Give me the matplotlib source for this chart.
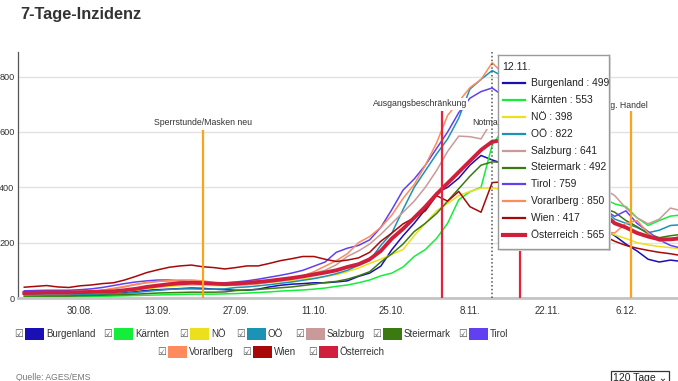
import matplotlib
matplotlib.use('Agg')
import matplotlib.pyplot as plt
import matplotlib.dates as mdates
import numpy as np
from matplotlib.patches import Rectangle
from matplotlib.ticker import FuncFormatter

plt.rcParams['font.family'] = ['Liberation Sans', 'DejaVu Sans']

# every second day, 20.08.2020 - 16.12.2020
dates = np.arange(np.datetime64('2020-08-20'), np.datetime64('2020-12-17'), np.timedelta64(2, 'D'))

burgenland = [12, 12, 11, 10, 10, 10, 12, 14, 16, 20,
              24, 28, 30, 32, 34, 36, 35, 32, 30, 28,
              28, 32, 40, 46, 50, 52, 55, 55, 58, 62,
              78, 90, 115, 175, 225, 270, 320, 380, 400, 433,
              480, 515, 499, 485, 465, 440, 415, 390, 365, 340,
              310, 280, 250, 225, 195, 170, 140, 130, 137, 132]
kaernten = [4, 4, 4, 4, 4, 4, 5, 6, 7, 8,
            9, 10, 11, 12, 13, 14, 14, 14, 15, 16,
            18, 20, 22, 25, 27, 29, 32, 36, 42, 47,
            55, 65, 80, 90, 112, 150, 175, 215, 270, 355,
            384, 400, 553, 610, 620, 600, 570, 530, 495, 455,
            420, 390, 360, 340, 330, 290, 262, 280, 296, 300]
noe = [10, 10, 11, 11, 12, 13, 15, 17, 20, 24,
       28, 33, 38, 42, 45, 46, 46, 45, 45, 46,
       48, 52, 56, 60, 64, 68, 72, 78, 84, 95,
       108, 125, 140, 158, 175, 225, 270, 315, 342, 370,
       385, 397, 398, 390, 380, 365, 350, 335, 315, 300,
       285, 265, 245, 228, 215, 200, 192, 186, 182, 178]
ooe = [14, 13, 12, 12, 12, 12, 13, 14, 15, 17,
       20, 24, 28, 31, 33, 33, 32, 32, 33, 38,
       40, 44, 48, 53, 58, 64, 70, 78, 88, 100,
       118, 135, 190, 235, 320, 400, 460, 520, 575, 650,
       755, 790, 822, 800, 770, 730, 680, 620, 560, 500,
       440, 380, 320, 285, 270, 255, 236, 245, 262, 265]
salzburg = [22, 22, 21, 20, 20, 22, 25, 28, 33, 40,
            48, 55, 60, 62, 62, 60, 57, 52, 50, 50,
            50, 52, 58, 65, 72, 80, 90, 100, 120, 150,
            170, 195, 230, 270, 310, 350, 400, 460, 530, 585,
            583, 575, 641, 645, 630, 605, 575, 545, 510, 480,
            450, 420, 395, 370, 325, 290, 268, 285, 325, 315]
steiermark = [7, 7, 7, 7, 7, 8, 9, 10, 11, 12,
              14, 16, 18, 19, 20, 21, 21, 21, 22, 27,
              29, 31, 34, 37, 40, 45, 50, 56, 60, 68,
              80, 95, 130, 160, 195, 240, 270, 305, 350, 395,
              440, 480, 492, 490, 480, 465, 450, 430, 410, 390,
              365, 345, 325, 310, 280, 258, 232, 218, 225, 230]
tirol = [26, 27, 28, 28, 28, 30, 33, 38, 45, 52,
         58, 62, 65, 65, 62, 58, 55, 55, 55, 58,
         62, 68, 75, 82, 90, 100, 115, 130, 165, 180,
         190, 210, 255, 320, 390, 430, 480, 540, 600, 670,
         722, 746, 759, 730, 690, 640, 590, 540, 490, 440,
         400, 360, 320, 295, 315, 270, 240, 210, 190, 180]
vorarlberg = [18, 17, 16, 16, 16, 18, 22, 28, 35, 42,
              50, 56, 60, 63, 65, 65, 62, 56, 50, 47,
              48, 52, 57, 62, 68, 80, 95, 115, 135, 160,
              200, 222, 255, 300, 360, 410, 480, 560, 660, 710,
              760, 790, 850, 810, 750, 680, 610, 540, 470, 400,
              340, 285, 240, 235, 270, 280, 235, 205, 210, 225]
wien = [39, 42, 45, 40, 38, 44, 47, 52, 55, 65,
        78, 92, 102, 111, 116, 119, 113, 110, 105, 110,
        116, 116, 125, 135, 142, 150, 150, 140, 132, 137,
        145, 165, 205, 235, 268, 290, 315, 370, 350, 385,
        330, 310, 417, 420, 405, 385, 360, 340, 315, 290,
        265, 245, 225, 205, 190, 180, 172, 165, 160, 153]
oesterreich = [18, 19, 20, 20, 20, 21, 22, 23, 24, 28,
               33, 40, 45, 50, 53, 55, 54, 52, 50, 52,
               55, 58, 62, 67, 72, 78, 85, 92, 100, 112,
               122, 140, 170, 215, 250, 290, 330, 375, 415, 455,
               495, 535, 565, 570, 555, 530, 500, 470, 440, 410,
               380, 345, 305, 270, 255, 235, 222, 212, 212, 216]

names = ['Burgenland', 'Kärnten', 'NÖ', 'OÖ', 'Salzburg', 'Steiermark',
         'Tirol', 'Vorarlberg', 'Wien', 'Österreich']
series = [burgenland, kaernten, noe, ooe, salzburg, steiermark,
          tirol, vorarlberg, wien, oesterreich]
colors = ['#1a0fb4', '#14ee3a', '#ece01c', '#1a93b4', '#c99a99', '#3a7a10',
          '#6040f0', '#ff8a5c', '#a80808', '#d01f3c']

event_dates = [np.datetime64('2020-09-21'), np.datetime64('2020-11-03'),
               np.datetime64('2020-11-17'), np.datetime64('2020-12-07')]
event_labels = ['Sperrstunde/Masken neu', 'Ausgangsbeschränkung',
                'Notmaßnahmen', 'Öffnung. Handel']
event_colors = ['#ffa21a', '#e8213c', '#e8213c', '#ffa21a']

tick_dates = [np.datetime64(d) for d in ['2020-08-30', '2020-09-13', '2020-09-27', '2020-10-11',
                                          '2020-10-25', '2020-11-08', '2020-11-22', '2020-12-06']]
hover_date = np.datetime64('2020-11-12')
hover_values = [499, 553, 398, 822, 641, 492, 759, 850, 417, 565]

W, H = 678, 381
fig = plt.figure(figsize=(W / 100, H / 100), dpi=100)


def fx(x):
    return x / W


def fy(y):
    return 1 - y / H


ax = fig.add_axes([fx(18), fy(298), 660 / W, 246 / H])
base = mdates.date2num(np.datetime64('2020-08-30'))
ax.set_xlim(base - 11.13, base + 107.36)
ax.set_ylim(0, 889)

for name, vals, c in zip(names, series, colors):
    lw = 2.8 if name == 'Österreich' else 1.1
    ax.plot(dates, vals, color=c, lw=lw, zorder=3 if name == 'Österreich' else 2,
            solid_joinstyle='round')

# events
ev_text_dx = [0, -4, -8.6, 2.9]
ev_text_y = [633, 702, 633, 698]
ev_top = [608, 677, 608, 677]
ev_ha = ['center', 'center', 'left', 'right']
for i, d in enumerate(event_dates):
    dn = mdates.date2num(d)
    ax.vlines(dn, 0, ev_top[i], color=event_colors[i], lw=1.6, zorder=4)
    ax.text(dn + ev_text_dx[i], ev_text_y[i], event_labels[i], ha=ev_ha[i], va='center',
            fontsize=6.3, color='#333333', zorder=5,
            bbox=dict(facecolor='white', edgecolor='none', pad=1.0))

ax.axvline(mdates.date2num(hover_date), color='#555555', lw=1.1, ls=(0, (1, 1.5)), zorder=6)

ax.set_yticks([0, 200, 400, 600, 800])
ax.set_xticks([mdates.date2num(d) for d in tick_dates])
ax.xaxis.set_major_formatter(FuncFormatter(
    lambda v, p: '%d.%02d.' % (mdates.num2date(v).day, mdates.num2date(v).month)))
ax.grid(axis='y', color='#e2e2e2', lw=1)
ax.set_axisbelow(True)
ax.tick_params(length=0, labelsize=7, colors='#333333')
ax.tick_params(axis='y', pad=2.5, labelsize=6.6)
ax.tick_params(axis='x', pad=6)
for s in ['top', 'right']:
    ax.spines[s].set_visible(False)
ax.spines['left'].set_color('#555555')
ax.spines['left'].set_linewidth(0.9)
ax.spines['bottom'].set_color('#c4c4c4')
ax.spines['bottom'].set_linewidth(2)

fig.text(fx(20), fy(15), '7-Tage-Inzidenz', fontsize=11.8, fontweight='bold',
         color='#333333', va='center', ha='left')

# tooltip
tx0, ty0, tw, th = 498, 55, 111, 194
shadow = Rectangle((fx(tx0 + 2), fy(ty0 + th + 2)), tw / W, th / H,
                   transform=fig.transFigure, facecolor='#dddddd',
                   edgecolor='none', zorder=9)
fig.patches.append(shadow)
tip = fig.add_axes([fx(tx0), fy(ty0 + th), tw / W, th / H])
tip.set_zorder(10)
tip.set_facecolor('white')
tip.set_xlim(0, tw)
tip.set_ylim(th, 0)
tip.set_xticks([])
tip.set_yticks([])
for s in tip.spines.values():
    s.set_color('#9a9a9a')
    s.set_linewidth(1)
tip.text(4, 12, '12.11.', fontsize=7.6, color='#222222', va='center')
for i, (name, v, c) in enumerate(zip(names, hover_values, colors)):
    yy = 28 + 16.9 * i
    tip.plot([5, 27], [yy, yy], color=c, lw=3 if name == 'Österreich' else 1.6)
    tip.text(33, yy, '%s : %d' % (name, v), fontsize=7.4, color='#222222', va='center')

# legend
row1 = [(15, 'Burgenland'), (104, 'Kärnten'), (180, 'NÖ'), (237, 'OÖ'),
        (296, 'Salzburg'), (373, 'Steiermark'), (459, 'Tirol')]
row2 = [(158, 'Vorarlberg'), (243, 'Wien'), (309, 'Österreich')]
for row, yc in [(row1, 334), (row2, 352)]:
    for x, name in row:
        c = colors[names.index(name)]
        fig.text(fx(x - 1), fy(yc), '\u2611', family='DejaVu Sans', fontsize=7,
                 color='#555555', va='center', ha='left')
        fig.patches.append(Rectangle((fx(x + 10), fy(yc + 6)), 19 / W, 12 / H,
                                     transform=fig.transFigure, facecolor=c,
                                     edgecolor='none'))
        fig.text(fx(x + 31), fy(yc), name, fontsize=7, color='#333333',
                 va='center', ha='left')

fig.text(fx(16), fy(377), 'Quelle: AGES/EMS', fontsize=6.2, color='#777777',
         va='center', ha='left')
fig.text(fx(613), fy(378), '120 Tage \u2304', fontsize=7.5, color='#222222',
         va='center', ha='left',
         bbox=dict(facecolor='white', edgecolor='#333333', pad=1.5, lw=0.9))

fig.savefig('out.png', dpi=100)
